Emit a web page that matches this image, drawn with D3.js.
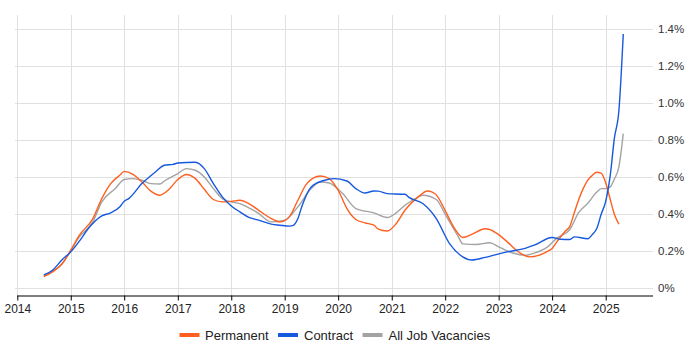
<!DOCTYPE html>
<html>
<head>
<meta charset="utf-8">
<script src="https://cdn.jsdelivr.net/npm/d3@7"></script>
<style>
  html, body { margin: 0; padding: 0; background: #fff; }
  svg { display: block; font-family: "Liberation Sans", Arial, sans-serif; }
</style>
</head>
<body>
<svg id="chart" width="700" height="350"></svg>
<script>
// ---- data (values in percent) ----
const seriesNames = ["Permanent", "Contract", "All Job Vacancies"];
const seriesColors = ["#ff5f1f", "#1658de", "#a3a3a3"];

const permDates = ["2014-07","2014-09","2014-11","2015-01","2015-03","2015-06","2015-08","2015-10","2015-12","2016-01","2016-03","2016-05","2016-07","2016-09","2016-11","2017-01","2017-03","2017-05","2017-07","2017-09","2017-11","2018-01","2018-03","2018-05","2018-07","2018-10","2018-12","2019-02","2019-04","2019-06","2019-09","2019-11","2020-01","2020-03","2020-05","2020-07","2020-09","2020-10","2020-12","2021-02","2021-04","2021-07","2021-09","2021-10","2021-11","2022-01","2022-03","2022-05","2022-07","2022-10","2022-11","2023-01","2023-03","2023-05","2023-08","2023-10","2023-12","2024-01","2024-02","2024-03","2024-04","2024-05","2024-06","2024-07","2024-08","2024-09","2024-10","2024-11","2024-12","2025-01","2025-02","2025-03","2025-04"];
const permValues = [0.063,0.090,0.131,0.206,0.287,0.377,0.485,0.566,0.611,0.632,0.616,0.575,0.525,0.503,0.534,0.588,0.615,0.593,0.535,0.480,0.467,0.470,0.476,0.458,0.425,0.377,0.359,0.386,0.476,0.566,0.607,0.593,0.530,0.431,0.372,0.354,0.341,0.320,0.310,0.350,0.422,0.494,0.526,0.521,0.505,0.420,0.330,0.275,0.291,0.322,0.318,0.290,0.251,0.206,0.170,0.178,0.200,0.215,0.250,0.280,0.310,0.335,0.410,0.480,0.540,0.585,0.610,0.627,0.623,0.570,0.480,0.400,0.347];

const contDates = ["2014-07","2014-09","2014-11","2015-01","2015-03","2015-05","2015-08","2015-10","2015-12","2016-01","2016-02","2016-05","2016-08","2016-10","2016-12","2017-01","2017-05","2017-07","2017-09","2017-11","2018-01","2018-03","2018-05","2018-07","2018-10","2018-12","2019-02","2019-03","2019-04","2019-05","2019-07","2019-10","2019-12","2020-03","2020-05","2020-07","2020-09","2020-10","2020-12","2021-04","2021-05","2021-08","2021-11","2022-02","2022-05","2022-07","2022-10","2022-12","2023-03","2023-07","2023-09","2024-01","2024-03","2024-05","2024-06","2024-09","2024-10","2024-11","2024-12","2025-01","2025-02","2025-03","2025-04","2025-05"];
const contValues = [0.072,0.099,0.153,0.197,0.255,0.323,0.391,0.408,0.440,0.470,0.485,0.566,0.629,0.665,0.670,0.677,0.681,0.647,0.566,0.494,0.445,0.413,0.383,0.370,0.347,0.341,0.336,0.340,0.377,0.449,0.548,0.584,0.593,0.580,0.539,0.515,0.526,0.525,0.512,0.508,0.490,0.458,0.377,0.240,0.170,0.153,0.167,0.179,0.197,0.216,0.233,0.275,0.265,0.264,0.278,0.268,0.290,0.323,0.400,0.470,0.610,0.810,0.960,1.375];

const allDates = ["2014-07","2014-11","2015-03","2015-06","2015-08","2015-11","2016-01","2016-03","2016-05","2016-07","2016-09","2016-10","2017-01","2017-03","2017-05","2017-07","2017-09","2017-11","2018-01","2018-03","2018-05","2018-07","2018-10","2019-01","2019-04","2019-07","2019-09","2019-11","2020-02","2020-05","2020-09","2020-12","2021-02","2021-04","2021-06","2021-08","2021-11","2022-01","2022-04","2022-05","2022-08","2022-11","2023-01","2023-04","2023-07","2023-09","2023-12","2024-02","2024-05","2024-07","2024-09","2024-11","2024-12","2025-01","2025-02","2025-03","2025-04","2025-05"];
const allValues = [0.068,0.130,0.278,0.359,0.467,0.539,0.588,0.593,0.584,0.566,0.564,0.580,0.620,0.647,0.638,0.602,0.539,0.485,0.467,0.458,0.435,0.408,0.359,0.368,0.440,0.539,0.575,0.569,0.512,0.431,0.408,0.383,0.408,0.449,0.480,0.503,0.480,0.400,0.278,0.240,0.237,0.246,0.224,0.192,0.179,0.190,0.224,0.270,0.318,0.410,0.460,0.520,0.539,0.539,0.548,0.590,0.656,0.836];

const yTicks = [0, 0.2, 0.4, 0.6, 0.8, 1.0, 1.2, 1.4];
const yTickLabels = ["0%","0.2%","0.4%","0.6%","0.8%","1.0%","1.2%","1.4%"];
const xTickYears = [2014,2015,2016,2017,2018,2019,2020,2021,2022,2023,2024,2025];

// ---- layout ----
const svg = d3.select("#chart");
const plotLeft = 15, plotRight = 653, plotTop = 15, axisY = 295.5;
const parse = d3.timeParse("%Y-%m");

const x = d3.scaleTime()
  .domain([new Date(2014,0,1), new Date(2025,10,20)])
  .range([17.3, 653]);
const y = d3.scaleLinear().domain([0, 1.4]).range([288.3, 29.3]);

// grid
const grid = svg.append("g");
grid.selectAll("line.h").data(yTicks).enter().append("line")
  .attr("x1", plotLeft).attr("x2", plotRight)
  .attr("y1", d => Math.round(y(d)) + 0.5).attr("y2", d => Math.round(y(d)) + 0.5)
  .attr("stroke", "#e0e0e0").attr("stroke-width", 1);
grid.selectAll("line.v").data(xTickYears).enter().append("line")
  .attr("x1", d => Math.round(x(new Date(d,0,1))) + 0.5)
  .attr("x2", d => Math.round(x(new Date(d,0,1))) + 0.5)
  .attr("y1", plotTop).attr("y2", axisY)
  .attr("stroke", "#e0e0e0").attr("stroke-width", 1);

// y labels (right)
svg.append("g").selectAll("text").data(yTicks).enter().append("text")
  .attr("x", 658).attr("y", d => y(d))
  .attr("dy", "0.35em")
  .attr("font-size", "11.5px").attr("fill", "#333")
  .text((d, i) => yTickLabels[i]);

// x axis
const xAxis = d3.axisBottom(x)
  .tickValues(xTickYears.map(yr => new Date(yr,0,1)))
  .tickFormat(d3.timeFormat("%Y"))
  .tickSizeOuter(0).tickSize(5).tickPadding(4);
const gx = svg.append("g").attr("transform", `translate(0,${axisY})`).call(xAxis);
gx.select(".domain").attr("stroke", "#000").attr("d", `M17.3,0.5H${plotRight}`);
gx.selectAll(".tick line").attr("stroke", "#000");
gx.selectAll(".tick text").attr("font-size", "12px").attr("fill", "#222")
  .attr("font-family", "\"Liberation Sans\", Arial, sans-serif");

// lines
const series = [
  { name: seriesNames[2], color: seriesColors[2], dates: allDates, values: allValues },
  { name: seriesNames[0], color: seriesColors[0], dates: permDates, values: permValues },
  { name: seriesNames[1], color: seriesColors[1], dates: contDates, values: contValues }
];
const line = d3.line()
  .x(d => x(d.date)).y(d => y(d.value))
  .curve(d3.curveMonotoneX);
series.forEach(s => {
  const pts = s.dates.map((dt, i) => ({ date: parse(dt), value: s.values[i] }));
  svg.append("path").datum(pts)
    .attr("fill", "none").attr("stroke", s.color)
    .attr("stroke-width", 1.4).attr("stroke-linejoin", "round")
    .attr("d", line);
});

// legend
const legendItems = [
  { name: seriesNames[0], color: seriesColors[0], sx: 179.5, tx: 205 },
  { name: seriesNames[1], color: seriesColors[1], sx: 278, tx: 304 },
  { name: seriesNames[2], color: seriesColors[2], sx: 362.5, tx: 388.5 }
];
const lg = svg.append("g");
lg.selectAll("rect").data(legendItems).enter().append("rect")
  .attr("x", d => d.sx).attr("y", 333).attr("width", 20).attr("height", 4)
  .attr("fill", d => d.color);
lg.selectAll("text").data(legendItems).enter().append("text")
  .attr("x", d => d.tx).attr("y", 335).attr("dy", "0.35em")
  .attr("font-size", "13px").attr("fill", "#222")
  .text(d => d.name);
</script>
</body>
</html>
